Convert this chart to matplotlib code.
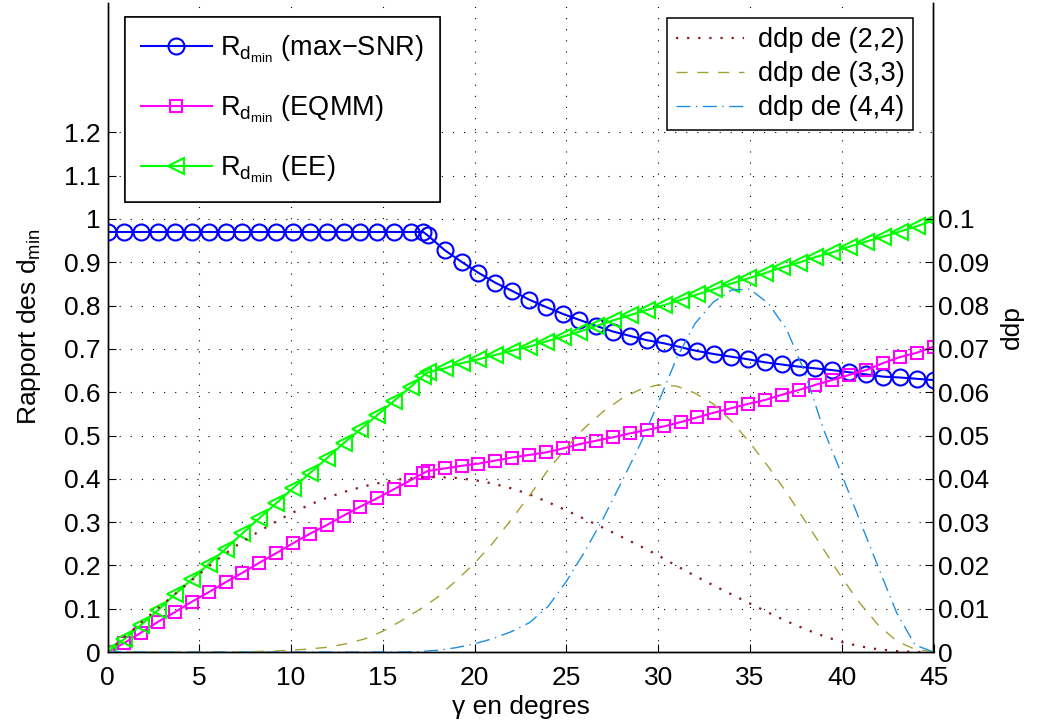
import matplotlib
matplotlib.use("Agg")
import matplotlib.pyplot as plt
import numpy as np

plt.rcParams['font.family'] = ['Liberation Sans', 'DejaVu Sans']
plt.rcParams['mathtext.fontset'] = 'custom'
plt.rcParams['mathtext.rm'] = 'Liberation Sans'
plt.rcParams['mathtext.it'] = 'Liberation Sans'
plt.rcParams['mathtext.default'] = 'regular'

# ---------------- data ----------------
gamma = [0.00, 0.92, 1.84, 2.76, 3.67, 4.59, 5.51, 6.43, 7.35, 8.27, 9.18, 10.10,
         11.02, 11.94, 12.86, 13.78, 14.69, 15.61, 16.53, 17.20, 17.45, 18.37, 19.29,
         20.20, 21.12, 22.04, 22.96, 23.88, 24.80, 25.71, 26.63, 27.55, 28.47, 29.39,
         30.31, 31.22, 32.14, 33.06, 33.98, 34.90, 35.82, 36.73, 37.65, 38.57, 39.49,
         40.41, 41.33, 42.24, 43.16, 44.08, 45.00]

r_maxsnr = [0.97] * 20 + [0.962, 0.928, 0.901, 0.876, 0.853, 0.834, 0.814, 0.797, 0.781,
                          0.767, 0.753, 0.740, 0.730, 0.720, 0.713, 0.704, 0.695, 0.688,
                          0.682, 0.676, 0.669, 0.664, 0.659, 0.655, 0.651, 0.646, 0.641,
                          0.636, 0.634, 0.631, 0.628]

r_eqmm = [0.000, 0.021, 0.045, 0.070, 0.092, 0.116, 0.138, 0.161, 0.183, 0.206, 0.228,
          0.251, 0.273, 0.293, 0.315, 0.336, 0.355, 0.376, 0.397, 0.413, 0.418,
          0.424, 0.430, 0.435, 0.442, 0.449, 0.455, 0.461, 0.470, 0.480, 0.488,
          0.496, 0.505, 0.513, 0.521, 0.531, 0.542, 0.553, 0.563, 0.573, 0.582,
          0.594, 0.605, 0.617, 0.628, 0.640, 0.651, 0.667, 0.681, 0.691, 0.705]

r_ee = [0.000, 0.030, 0.063, 0.097, 0.133, 0.168, 0.203, 0.238, 0.274, 0.309, 0.343,
        0.378, 0.413, 0.447, 0.482, 0.514, 0.547, 0.580, 0.613, 0.638, 0.646,
        0.655, 0.667, 0.676, 0.686, 0.696, 0.705, 0.717, 0.728, 0.740, 0.753,
        0.766, 0.778, 0.790, 0.801, 0.813, 0.826, 0.838, 0.851, 0.863, 0.875,
        0.888, 0.899, 0.912, 0.923, 0.936, 0.948, 0.959, 0.971, 0.983, 0.997]

gamma_ddp = [0, 1, 2, 3, 4, 5, 6, 7, 8, 9, 10, 11, 12, 13, 14, 15, 16, 17, 18, 19, 20,
             21, 22, 23, 24, 25, 26, 27, 28, 29, 30, 31, 32, 33, 34, 35, 36, 37, 38, 39,
             40, 41, 42, 43, 44, 45]

ddp22 = [0.0000, 0.0037, 0.0074, 0.0110, 0.0145, 0.0180, 0.0214, 0.0245, 0.0272, 0.0297,
         0.0320, 0.0340, 0.0357, 0.0371, 0.0383, 0.0392, 0.0399, 0.0403, 0.0404, 0.0402,
         0.0397, 0.0389, 0.0378, 0.0364, 0.0346, 0.0327, 0.0307, 0.0287, 0.0266, 0.0245,
         0.0223, 0.0199, 0.0176, 0.0154, 0.0133, 0.0112, 0.0091, 0.0071, 0.0053, 0.0037,
         0.0023, 0.0013, 0.0006, 0.0002, 0.0000, 0.0000]

ddp33 = [0.0000, 0.0000, 0.0000, 0.0000, 0.0000, 0.0000, 0.0000, 0.0000, 0.0001, 0.0002,
         0.0004, 0.0007, 0.0011, 0.0019, 0.0030, 0.0048, 0.0072, 0.0098, 0.0127, 0.0165,
         0.0205, 0.0252, 0.0306, 0.0362, 0.0420, 0.0472, 0.0518, 0.0555, 0.0585, 0.0606,
         0.0617, 0.0614, 0.0598, 0.0573, 0.0533, 0.0483, 0.0428, 0.0368, 0.0303, 0.0238,
         0.0172, 0.0112, 0.0062, 0.0025, 0.0006, 0.0000]

ddp44 = [0.0000, 0.0000, 0.0000, 0.0000, 0.0000, 0.0000, 0.0000, 0.0000, 0.0000, 0.0000,
         0.0000, 0.0000, 0.0000, 0.0000, 0.0000, 0.0000, 0.0000, 0.0001, 0.0004, 0.0010,
         0.0019, 0.0031, 0.0047, 0.0068, 0.0105, 0.0163, 0.0232, 0.0308, 0.0392, 0.0478,
         0.0575, 0.0678, 0.0758, 0.0808, 0.0836, 0.0838, 0.0805, 0.0745, 0.0645, 0.0515,
         0.0410, 0.0302, 0.0195, 0.0090, 0.0016, 0.0000]

left_ticks = [0, 0.1, 0.2, 0.3, 0.4, 0.5, 0.6, 0.7, 0.8, 0.9, 1.0, 1.1, 1.2]
left_labels = ['0', '0.1', '0.2', '0.3', '0.4', '0.5', '0.6', '0.7', '0.8', '0.9', '1', '1.1', '1.2']
right_ticks = [0, 0.01, 0.02, 0.03, 0.04, 0.05, 0.06, 0.07, 0.08, 0.09, 0.1]
right_labels = ['0', '0.01', '0.02', '0.03', '0.04', '0.05', '0.06', '0.07', '0.08', '0.09', '0.1']
x_ticks = [0, 5, 10, 15, 20, 25, 30, 35, 40, 45]

lab_snr = r'$R_{d_{min}}$ (max' + '\u2212' + 'SNR)'
lab_eqmm = r'$R_{d_{min}}$ (EQMM)'
lab_ee = r'$R_{d_{min}}$ (EE)'
lab_22 = 'ddp de (2,2)'
lab_33 = 'ddp de (3,3)'
lab_44 = 'ddp de (4,4)'

# ---------------- figure ----------------
W, H = 1041, 728
fig = plt.figure(figsize=(W / 100, H / 100), dpi=100)
x0, x1 = 107.5, 933.5
y0, y1 = 652, 2.5
ax = fig.add_axes([x0 / W, (H - y0) / H, (x1 - x0) / W, (y0 - y1) / H])
ax.set_xlim(0, 45)
ax.set_ylim(0, 1.5)
ax2 = ax.twinx()
ax2.set_ylim(0, 0.15)

FS = 19
LFS = 19.5
grid_ls = (0, (1, 9))
ax.grid(True, linestyle=grid_ls, color='black', linewidth=0.8)
ax.set_axisbelow(True)

h1, = ax.plot(gamma, r_maxsnr, '-', color='#0000ff', lw=1.5, marker='o', ms=11.5,
              mfc='none', mec='#0000ff', mew=1.5, label=lab_snr, zorder=3)
h2, = ax.plot(gamma, r_eqmm, '-', color='#ff00ff', lw=1.5, marker='s', ms=8,
              mfc='none', mec='#ff00ff', mew=1.5, label=lab_eqmm, zorder=3)
h3, = ax.plot(gamma, r_ee, '-', color='#00ff00', lw=1.5, marker='<', ms=12,
              mfc='none', mec='#00ff00', mew=1.5, label=lab_ee, zorder=3)

g1, = ax2.plot(gamma_ddp, ddp22, color='#8c1a1a', lw=1.6, linestyle=(0, (1, 4)), label=lab_22)
g2, = ax2.plot(gamma_ddp, ddp33, color='#a3a033', lw=1.0, linestyle=(0, (8, 7)), label=lab_33)
g3, = ax2.plot(gamma_ddp, ddp44, color='#1e8fe0', lw=1.0, linestyle=(0, (10, 4, 1, 4)), label=lab_44)

ax.set_xticks(x_ticks)
ax.set_xticklabels([str(t) for t in x_ticks])
ax.set_yticks(left_ticks)
ax.set_yticklabels(left_labels)
ax2.set_yticks(right_ticks)
ax2.set_yticklabels(right_labels)

ax.tick_params(axis='y', direction='in', length=6, width=0.8, labelsize=FS, right=False, pad=5)
ax.tick_params(axis='x', direction='in', length=6, width=0.8, labelsize=FS, top=False, pad=10)
ax2.tick_params(axis='y', direction='in', length=6, width=0.8, labelsize=FS, pad=3)

for a in (ax, ax2):
    a.spines['top'].set_visible(False)
    for s in ('left', 'right', 'bottom'):
        a.spines[s].set_linewidth(1.0)

ax.set_xlabel('\u03b3 en degres', fontsize=FS, labelpad=4)
ax.set_ylabel(r'Rapport des $d_{min}$', fontsize=FS, labelpad=15)
ax2.set_ylabel('ddp', fontsize=FS, labelpad=8)

leg1 = ax.legend(handles=[h1, h2, h3], loc='upper left',
                 bbox_to_anchor=(125 / W, 1 - 17.3 / H), bbox_transform=fig.transFigure,
                 borderaxespad=0, fontsize=LFS, handlelength=2.6, handletextpad=0.3,
                 labelspacing=1.05, borderpad=0.6, fancybox=False, framealpha=1,
                 edgecolor='black')
leg1.get_frame().set_linewidth(1.1)
ax.add_artist(leg1)

leg2 = ax2.legend(handles=[g1, g2, g3], loc='upper right',
                  bbox_to_anchor=(913.3 / W, 1 - 18.3 / H), bbox_transform=fig.transFigure,
                  borderaxespad=0, fontsize=LFS, handlelength=2.5, handletextpad=0.5,
                  labelspacing=0.3, borderpad=0.33, fancybox=False, framealpha=1,
                  edgecolor='black')
leg2.get_frame().set_linewidth(1.1)

fig.savefig('out.png', dpi=100)
